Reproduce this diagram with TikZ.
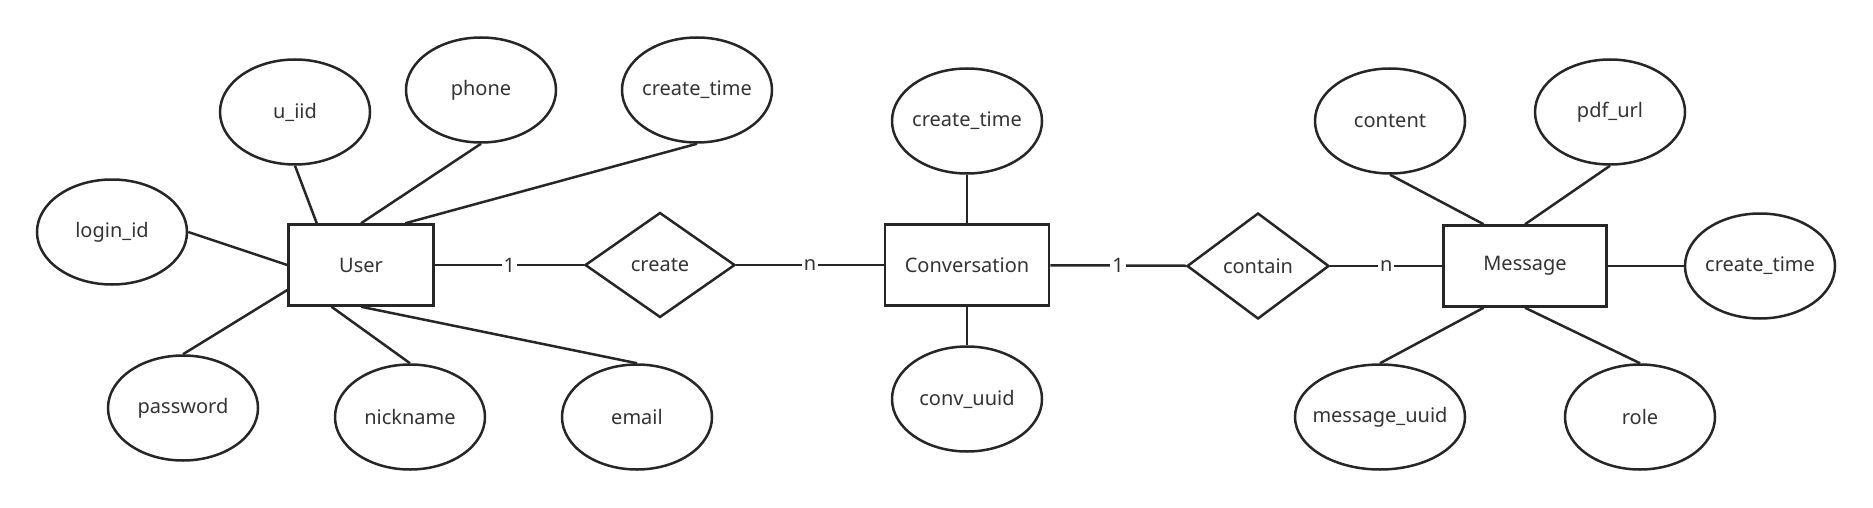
\documentclass[tikz,border=0pt]{standalone}
\usepackage{fontspec}
\setmainfont{Noto Sans}
\usetikzlibrary{calc}
\usetikzlibrary{positioning}
\usetikzlibrary{shapes.geometric}

\definecolor{linecolor}{HTML}{262626}
\definecolor{textcolor}{HTML}{333333}

\begin{document}
\begin{tikzpicture}
            [x=1pt, y=-1pt,
            border/.style={line width=2.5pt, draw=linecolor},
            link/.style={line width=2.5pt, draw=linecolor},
            entity/.style={border, rectangle, minimum height=81pt, inner sep=0pt},
            attr/.style={border, ellipse, minimum width=150pt, minimum height=105pt, inner xsep=-20pt, inner ysep=0pt},
            rel/.style={border, diamond, aspect=1.4, inner sep=0pt},
            card/.style={fill=white, inner sep=2pt},
            every node/.style={text=textcolor, font=\fontsize{20}{24}\selectfont},
            ]
            \useasboundingbox (0,0) rectangle (1873,508);

            % user
            \node[entity, minimum width=145pt] (user) at (361,265) {User};
            \node[attr] (uiid) at (295,112) {u\_iid};
            \node[attr] (phone) at (481,90) {phone};
            \node[attr] (ct1) at (697,90) {create\_time};
            \node[attr] (login) at (112,232) {login\_id};
            \node[attr] (pwd) at (183,408) {password};
            \node[attr] (nick) at (410,417) {nickname};
            \node[attr] (email) at (637,417) {email};

            % create
            \node[rel, minimum width=150pt, minimum height=105pt] (create) at (660,265) {create};

            % conversation
            \node[entity, minimum width=164pt] (conv) at (967,265) {Conversation};
            \node[attr] (ct2) at (967,121) {create\_time};
            \node[attr] (cuuid) at (967,399) {conv\_uuid};

            % contain
            \node[rel, minimum width=142pt, minimum height=106pt] (contain) at (1258,266) {contain};

            % message
            \node[entity, minimum width=163pt] (msg) at (1525,266) {Message};
            \node[attr] (content) at (1390,121) {content};
            \node[attr] (pdf) at (1610,112) {pdf\_url};
            \node[attr] (ct3) at (1760,266) {create\_time};
            \node[attr, minimum width=170pt] (muuid) at (1380,417) {message\_uuid};
            \node[attr] (role) at (1640,417) {role};

            \draw[link] (uiid.south) -- ($(user.north west)!0.2!(user.north east)$);
            \draw[link] (phone.south) -- (user.north);
            \draw[link] (ct1.south) -- ($(user.north west)!0.8!(user.north east)$);
            \draw[link] (login.east) -- (user.west);
            \draw[link] (pwd.north) -- ($(user.north west)!0.8!(user.south west)$);
            \draw[link] (nick.north) -- ($(user.south west)!0.3!(user.south east)$);
            \draw[link] (email.north) -- (user.south);

            \draw[link] (ct2.south) -- (conv.north);
            \draw[link] (cuuid.north) -- (conv.south);

            \draw[link] (content.south) -- ($(msg.north west)!0.25!(msg.north east)$);
            \draw[link] (pdf.south) -- (msg.north);
            \draw[link] (ct3.west) -- (msg.east);
            \draw[link] (muuid.north) -- ($(msg.south west)!0.25!(msg.south east)$);
            \draw[link] (role.north) -- (msg.south);

            \draw[link] (user) -- node[card] (c1) {1} (create);
            \draw[link] (create) -- node[card] (c2) {n} (conv);
            \draw[link] (conv) -- node[card] (c3) {1} (contain);
            \draw[link] (contain) -- node[card] (c4) {n} (msg);
        \end{tikzpicture}
\end{document}
